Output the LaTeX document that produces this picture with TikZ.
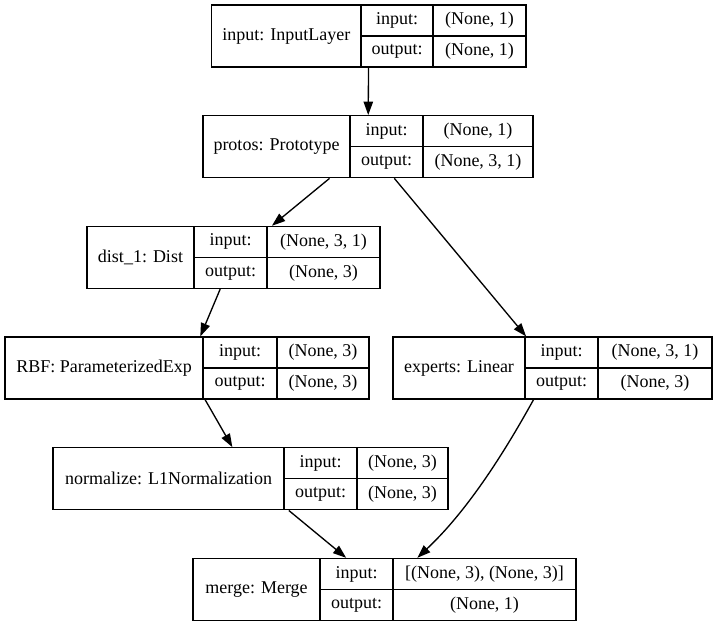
\documentclass[tikz,border=0pt]{standalone}
\usepackage{fontspec}
\setmainfont{Liberation Serif}
\usetikzlibrary{arrows.meta}

\tikzset{
  box/.style={draw, line width=1bp, inner sep=0pt},
  cell/.style={inner sep=0pt, font=\fontsize{13.5bp}{16bp}\selectfont},
  edge/.style={line width=1bp, -{Triangle[length=10bp,width=7bp]}},
}

% name, left, divider, divider, right, top, layer, input shape, output shape
\newcommand{\layerbox}[9]{%
  \node[box, minimum width=(#5-#2)*0.75bp, minimum height=46.5bp] (#1) at ({(#2+#5)/2},{#6+31}) {};
  \draw[line width=1bp] (#3,#6) -- (#3,{#6+62}) (#4,#6) -- (#4,{#6+62}) (#3,{#6+31}) -- (#5,{#6+31});
  \node[cell] (#1-name) at ({(#2+#3)/2},{#6+31}) {#7};
  \node[cell] (#1-inkey) at ({(#3+#4)/2},{#6+15.5}) {input:};
  \node[cell] (#1-outkey) at ({(#3+#4)/2},{#6+46.5}) {output:};
  \node[cell] (#1-in) at ({(#4+#5)/2},{#6+15.5}) {#8};
  \node[cell] (#1-out) at ({(#4+#5)/2},{#6+46.5}) {#9};
}

\begin{document}
\begin{tikzpicture}[x=0.75bp, y=-0.75bp]
\useasboundingbox (0,0) rectangle (714,627);
\layerbox{input}{211.5}{361}{433}{526}{5}{input: InputLayer}{(None, 1)}{(None, 1)}
\layerbox{protos}{203}{350}{423}{533}{115.7}{protos: Prototype}{(None, 1)}{(None, 3, 1)}
\layerbox{dist}{87}{194}{267}{380}{226.4}{dist\_1: Dist}{(None, 3, 1)}{(None, 3)}
\layerbox{rbf}{5}{203}{277}{369}{337.1}{RBF: ParameterizedExp}{(None, 3)}{(None, 3)}
\layerbox{experts}{393}{525}{598}{712}{337.1}{experts: Linear}{(None, 3, 1)}{(None, 3)}
\layerbox{normalize}{53}{284}{357}{448}{447.8}{normalize: L1Normalization}{(None, 3)}{(None, 3)}
\layerbox{merge}{193}{320}{393}{576}{558.5}{merge: Merge}{[(None, 3), (None, 3)]}{(None, 1)}
\draw[edge] (input) -- (protos);
\draw[edge] (protos) -- (dist);
\draw[edge] (protos) -- (experts);
\draw[edge] (dist) -- (rbf);
\draw[edge] (rbf) -- (normalize);
\draw[edge] (normalize) -- (merge);
\draw[edge] (experts.-121) .. controls +(-32,58) and +(48,-45) .. (merge.44);
\end{tikzpicture}
\end{document}
